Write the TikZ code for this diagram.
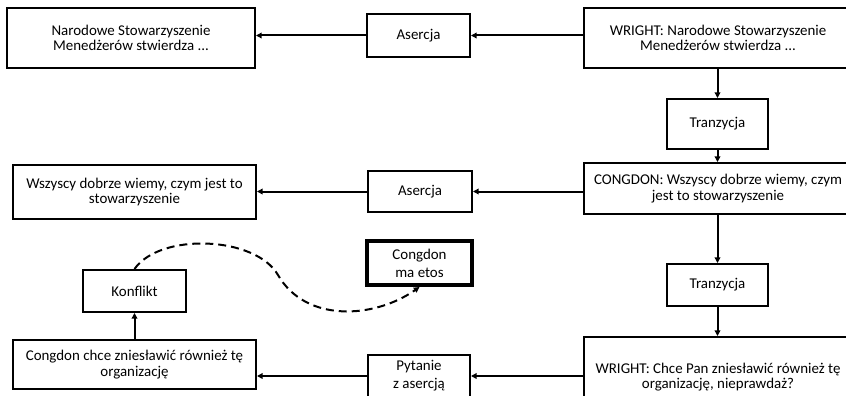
\documentclass[tikz,border=0pt]{standalone}
\usepackage{fontspec}
\setmainfont{Carlito}
\usetikzlibrary{arrows.meta}

\begin{document}
\begin{tikzpicture}[box/.style={draw,line width=0.6mm,align=center,inner sep=0pt,
		font=\fontsize{12.75}{13}\selectfont},
	loosebox/.style={box,font=\fontsize{12.75}{15.4}\selectfont},
	arr/.style={-{Triangle[length=1.7mm,width=1.7mm]},line width=0.6mm}]


\useasboundingbox (0mm,0mm) rectangle (253.8mm,118.5mm);
\clip (0mm,0mm) rectangle (253.8mm,118.5mm);



% right column
\node[box,minimum width=80.4mm,minimum height=18mm] (wr1) at (215.4mm,107.1mm) {WRIGHT: Narodowe Stowarzyszenie\\Menedżerów stwierdza ...};
\node[box,minimum width=30.3mm,minimum height=15mm] (tr1) at (215.25mm,81.3mm) {Tranzycja};
\node[box,minimum width=80.4mm,minimum height=15.3mm] (cg1) at (215.4mm,61.95mm) {CONGDON: Wszyscy dobrze wiemy, czym\\jest to stowarzyszenie};
\node[box,minimum width=30.3mm,minimum height=12.6mm] (tr2) at (215.25mm,33mm) {Tranzycja};
\node[box,minimum width=80.4mm,minimum height=24mm] (wr2) at (215.4mm,5.4mm) {WRIGHT: Chce Pan zniesławić również tę\\organizację, nieprawdaż?};

% middle column
\node[box,minimum width=30.9mm,minimum height=12.9mm] (as1) at (125.55mm,107.85mm) {Asercja};
\node[box,minimum width=31.2mm,minimum height=12.3mm] (as2) at (126mm,61.05mm) {Asercja};
\node[loosebox,line width=1.2mm,minimum width=31.5mm,minimum height=13.2mm] (eto) at (125.85mm,39.6mm) {Congdon\\ma etos};
\node[loosebox,minimum width=30.6mm,minimum height=12.6mm] (pyt) at (125.7mm,5.7mm) {Pytanie\\z asercją};

% left column
\node[box,minimum width=74.4mm,minimum height=18mm] (nsm) at (39.3mm,107.1mm) {Narodowe Stowarzyszenie\\Menedżerów stwierdza ...};
\node[box,minimum width=72.9mm,minimum height=16.2mm] (wsz) at (40.35mm,60.9mm) {Wszyscy dobrze wiemy, czym jest to\\stowarzyszenie};
\node[box,minimum width=30.9mm,minimum height=12.6mm] (kon) at (40.35mm,31.2mm) {Konflikt};
\node[box,minimum width=72.9mm,minimum height=14.7mm] (cch) at (40.35mm,9.15mm) {Congdon chce zniesławić również tę\\organizację};


\draw[arr] (as1.east -| wr1.west) -- (as1.east);
\draw[arr] (as1.west) -- (as1.west -| nsm.east);

\draw[arr] (tr1.north |- wr1.south) -- (tr1.north);
\draw[arr] (tr1.south) -- (tr1.south |- cg1.north);

\draw[arr] (as2.east -| cg1.west) -- (as2.east);
\draw[arr] (as2.west) -- (as2.west -| wsz.east);

\draw[arr] (tr2.north |- cg1.south) -- (tr2.north);
\draw[arr] (tr2.south) -- (tr2.south |- wr2.north);

\draw[arr] (pyt.east -| wr2.west) -- (pyt.east);
\draw[arr] (pyt.west) -- (pyt.west -| cch.east);

\draw[arr] (cch.north) -- (kon.south);

% conflict with ethos
\coordinate (bend) at (83.4mm,36mm);
\draw[arr,dash pattern=on 2.4mm off 1.5mm] (kon.north) to[out=55,in=120,looseness=0.8] (bend) to[out=-60,in=215] (eto.south);


\end{tikzpicture}
\end{document}
